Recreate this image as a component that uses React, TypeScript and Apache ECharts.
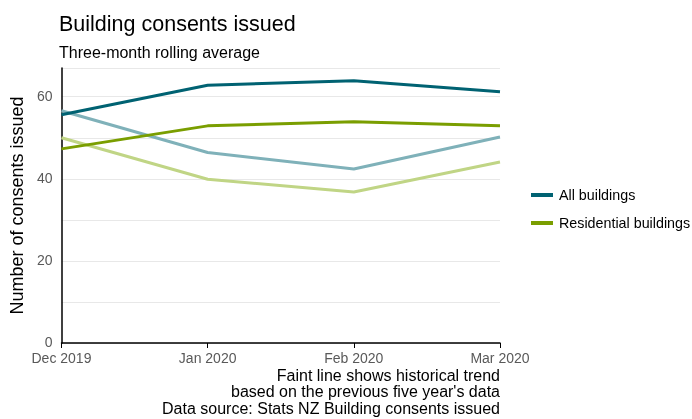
import React, { useEffect, useRef } from "react";
import * as echarts from "echarts";

const months = ["Dec 2019", "Jan 2020", "Feb 2020", "Mar 2020"];
const allBuildings = [55.6, 62.8, 63.9, 61.2];
const allBuildingsTrend = [56.6, 46.4, 42.4, 50.2];
const residential = [47.3, 52.9, 53.9, 52.9];
const residentialTrend = [50.0, 39.9, 36.8, 44.1];
const footnoteLines = [
  "Faint line shows historical trend",
  "based on the previous five year's data",
  "Data source: Stats NZ Building consents issued",
];

const FONT = "Liberation Sans, Arial, sans-serif";

export default function App() {
  const ref = useRef<HTMLDivElement>(null);
  useEffect(() => {
    if (!ref.current) return;
    const chart = echarts.init(ref.current, null, { renderer: "svg" });
    chart.setOption({
      animation: false,
      textStyle: { fontFamily: FONT },
      title: [
        {
          text: "Building consents issued",
          left: 59,
          top: 13,
          padding: 0,
          textStyle: { fontSize: 21.5, fontWeight: "normal", color: "#000", fontFamily: FONT },
        },
        {
          text: "Three-month rolling average",
          left: 59,
          top: 44,
          padding: 0,
          textStyle: { fontSize: 16, fontWeight: "normal", color: "#000", fontFamily: FONT },
        },
      ],
      graphic: footnoteLines.map((line, i) => ({
        type: "text",
        x: 500,
        y: 375 + i * 16.5,
        style: {
          text: line,
          align: "right",
          verticalAlign: "middle",
          fontSize: 16,
          fill: "#000",
          fontFamily: FONT,
        },
      })),
      legend: {
        data: ["All buildings", "Residential buildings"],
        orient: "vertical",
        left: 531,
        top: 188,
        padding: 0,
        icon: "rect",
        itemWidth: 22,
        itemHeight: 4,
        itemGap: 14,
        textStyle: { fontSize: 14.3, color: "#000", fontFamily: FONT, padding: [0, 0, 0, 1] },
      },
      grid: { left: 59, right: 192, top: 68, bottom: 76, containLabel: false },
      xAxis: {
        type: "category",
        data: months,
        boundaryGap: false,
        axisLine: { lineStyle: { color: "#000", width: 1.5 } },
        axisTick: { show: true, length: 5, lineStyle: { color: "#000" } },
        axisLabel: { color: "#595959", fontSize: 14, margin: 8, fontFamily: FONT },
      },
      yAxis: {
        type: "value",
        min: 0,
        max: 67,
        interval: 10,
        name: "Number of consents issued",
        nameLocation: "middle",
        nameGap: 30,
        nameTextStyle: { fontSize: 18, color: "#000", fontFamily: FONT },
        axisLine: { show: true, lineStyle: { color: "#000", width: 1.5 } },
        axisTick: { show: false },
        axisLabel: {
          color: "#595959",
          fontSize: 14,
          margin: 9,
          fontFamily: FONT,
          verticalAlign: "bottom",
          lineHeight: 14,
          padding: [0, 0, -6, 0],
          formatter: (v: number) => (v % 20 === 0 ? String(v) : ""),
        },
        splitLine: { show: true, lineStyle: { color: "#e8e8e8", width: 1 } },
      },
      series: [
        {
          name: "All buildings trend",
          type: "line",
          data: allBuildingsTrend,
          symbol: "none",
          lineStyle: { color: "#7fb1b9", width: 3 },
          itemStyle: { color: "#7fb1b9" },
        },
        {
          name: "Residential buildings trend",
          type: "line",
          data: residentialTrend,
          symbol: "none",
          lineStyle: { color: "#c0d585", width: 3 },
          itemStyle: { color: "#c0d585" },
        },
        {
          name: "All buildings",
          type: "line",
          data: allBuildings,
          symbol: "none",
          lineStyle: { color: "#006272", width: 3 },
          itemStyle: { color: "#006272" },
        },
        {
          name: "Residential buildings",
          type: "line",
          data: residential,
          symbol: "none",
          lineStyle: { color: "#7a9e00", width: 3 },
          itemStyle: { color: "#7a9e00" },
        },
      ],
    });
    return () => chart.dispose();
  }, []);
  return (
    <div
      ref={ref}
      style={{ position: "fixed", left: 0, top: 0, width: 692, height: 419 }}
    />
  );
}
